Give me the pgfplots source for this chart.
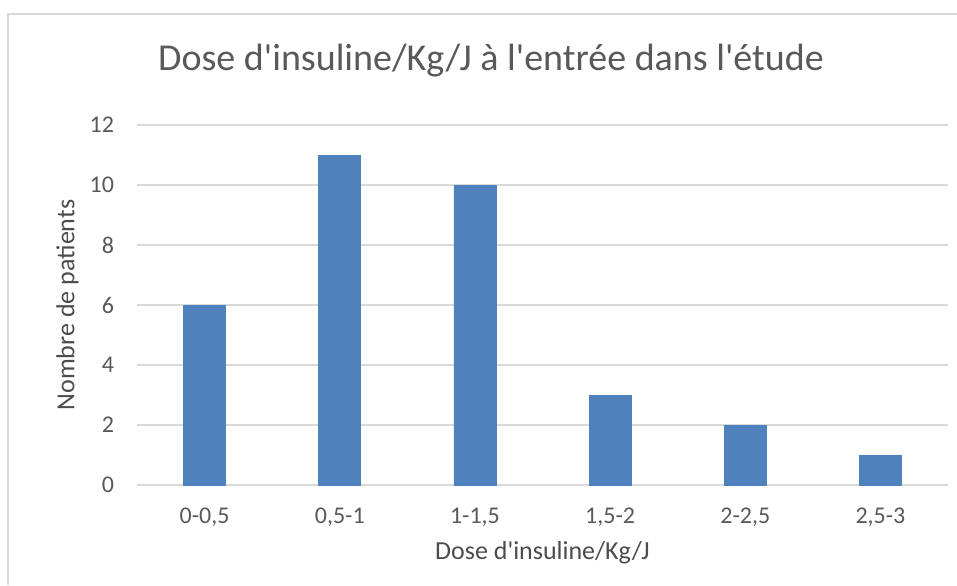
\documentclass[border=0pt]{standalone}
\usepackage{pgfplots}
\pgfplotsset{compat=1.18}
\usepackage{fontspec}
\setmainfont{Carlito}
\definecolor{barblue}{HTML}{4F81BD}
\definecolor{gridgray}{HTML}{D9D9D9}
\definecolor{txtgray}{HTML}{595959}
\begin{document}
\begin{tikzpicture}
\path[use as bounding box] (0,0) rectangle (478.5pt,292.5pt);
\draw[gridgray, line width=0.8pt] (4pt,0) -- (4pt,285.5pt) -- (478.5pt,285.5pt);
\begin{axis}[
  at={(68.5pt,50pt)}, anchor=south west,
  scale only axis, width=405.5pt, height=180pt,
  xmin=-0.5, xmax=5.5, ymin=0, ymax=12,
  ytick={0,2,...,12},
  xtick={0,1,2,3,4,5},
  xticklabels={0-0{,}5,0{,}5-1,1-1{,}5,1{,}5-2,2-2{,}5,2{,}5-3},
  axis line style={draw=none},
  major tick length=0pt,
  ymajorgrids, grid style={gridgray, line width=0.8pt},
  tick label style={font=\fontsize{12}{14}\selectfont, color=txtgray},
  /pgf/number format/assume math mode=true,
  xticklabel style={yshift=-8pt},
  yticklabel style={xshift=-8pt},
  xlabel={Dose d\textquotesingle insuline/Kg/J},
  ylabel={Nombre de patients},
  label style={font=\fontsize{13}{15}\selectfont, color=txtgray!85!black},
  xlabel style={at={(axis description cs:0.5,0)}, anchor=center, yshift=-34pt},
  ylabel style={at={(axis description cs:0,0.5)}, anchor=center, yshift=34.75pt},
  title={Dose d\textquotesingle insuline/Kg/J à l\textquotesingle entrée dans l\textquotesingle étude},
  title style={font=\fontsize{19}{22}\selectfont, color=txtgray, at={(axis description cs:0.4365,1)}, anchor=center, yshift=26pt},
  clip=false,
]
\addplot[ybar, bar width=21pt, fill=barblue, draw=barblue] coordinates {(0,6) (1,11) (2,10) (3,3) (4,2) (5,1)};
\end{axis}
\end{tikzpicture}
\end{document}
